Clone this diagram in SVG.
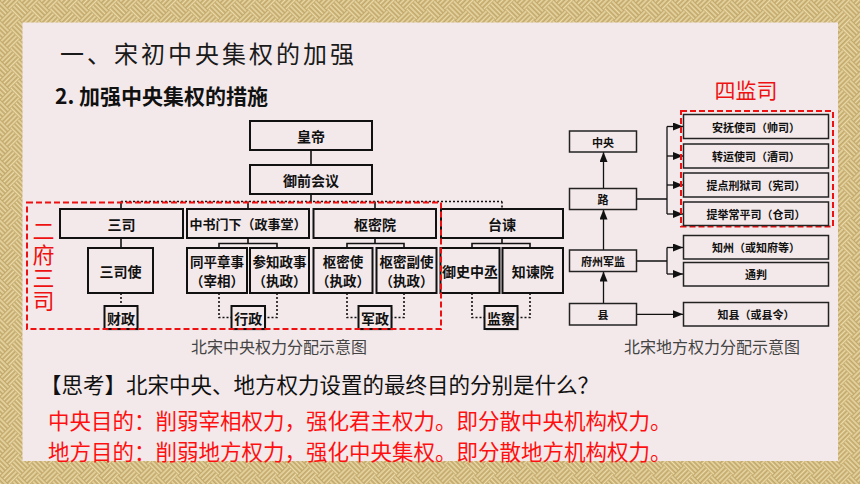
<svg xmlns="http://www.w3.org/2000/svg" width="860" height="484" viewBox="0 0 860 484">
<defs>
<pattern id="weave" width="28" height="28" patternUnits="userSpaceOnUse" patternTransform="rotate(45)">
<rect width="28" height="28" fill="#c3a86b"/>
<path d="M0 2H14M0 5.5H14M0 9H14M0 12.5H14M16 0V14M19.5 0V14M23 0V14M26.5 0V14M2 14V28M5.5 14V28M9 14V28M12.5 14V28M14 16H28M14 19.5H28M14 23H28M14 26.5H28" stroke="#ecdcab" stroke-width="1.5" fill="none"/>
</pattern>
<marker id="arr" markerUnits="userSpaceOnUse" markerWidth="10" markerHeight="8" refX="10" refY="4" orient="auto">
<path d="M0 0L10 4L0 8z" fill="#111"/>
</marker>
<style>
text{font-family:"Noto Sans CJK SC","Liberation Sans",sans-serif;dominant-baseline:central}
.b{fill:none;stroke:#111;stroke-width:2}
.lt{font-size:14px;font-weight:bold;fill:#111;text-anchor:middle}
.l2{font-size:13.5px}
.rb{fill:none;stroke:#222;stroke-width:1.5}
.rt{font-size:11px;font-weight:bold;fill:#111;text-anchor:middle}
.sol{fill:none;stroke:#111;stroke-width:1.6}
.dot{fill:none;stroke:#111;stroke-width:1.6;stroke-dasharray:2 2}
.arl{fill:none;stroke:#111;stroke-width:1.3;marker-end:url(#arr)}
.red{fill:none;stroke:#ee1111;stroke-width:2;stroke-dasharray:6 3}
.cap{font-size:16px;fill:#444;text-anchor:middle}
.sh{fill:#bbb;opacity:0.5}
</style>
</defs>

<rect width="860" height="484" fill="url(#weave)"/>
<rect x="22.5" y="22.5" width="815.5" height="438.5" fill="#f3e9ea"/>

<text x="60" y="52" font-size="24" letter-spacing="3" fill="#1a1a1a">一、宋初中央集权的加强</text>
<text x="55" y="94.5" font-size="21" font-weight="bold" fill="#111">2. 加强中央集权的措施</text>

<g id="connectors">
<path class="sol" d="M311 150V165M311 194V202"/>
<path class="dot" d="M121 201.5H502"/>
<path class="sol" d="M121 201.5V209M248 201.5V209M375 201.5V209"/>
<path class="dot" d="M502 201.5V209"/>
<path class="sol" d="M121 238V248M248 238V243.5M219 248V243.5H277V248M375 238V243.5M347 248V243.5H404V248M502 238V243.5M472 248V243.5H530V248"/>
<path class="dot" d="M121 293V306M219 293V317.5H231.5M277 293V317.5H265M347 293V317.5H358.5M404 293V317.5H391.5M472 293V317.5H484.5M530 293V317.5H517.5"/>
<path class="arl" d="M603.5 188.5V152"/>
<path class="arl" d="M603.5 250V209.5"/>
<path class="arl" d="M603.5 303.5V271.5"/>
<path class="sol" style="stroke-width:1.3" d="M636.5 199H667M667 126.5V214M636.5 261H667M667 247.5V274"/>
<path class="arl" d="M667 126.5H683"/>
<path class="arl" d="M667 156H683"/>
<path class="arl" d="M667 185H683"/>
<path class="arl" d="M667 214H683"/>
<path class="arl" d="M667 247.5H683"/>
<path class="arl" d="M667 274H683"/>
<path class="arl" d="M636.5 314.3H683"/>
</g>

<g id="n-huangdi"><rect class="b" x="250" y="121" width="122" height="29"/><text class="lt" x="311" y="135.5">皇帝</text></g>
<g id="n-yuqian"><rect class="b" x="250" y="165" width="122" height="29"/><text class="lt" x="311" y="179.5">御前会议</text></g>

<g id="n-sansi"><rect class="b" x="60" y="209" width="123" height="29"/><text class="lt" x="121.5" y="223.5">三司</text></g>
<g id="n-zhongshu"><rect class="b" x="187" y="209" width="122" height="29"/><text class="lt" x="248" y="223.5" style="font-size:13px">中书门下（政事堂）</text></g>
<g id="n-shumiyuan"><rect class="b" x="313.5" y="209" width="122.5" height="29"/><text class="lt" x="375" y="223.5">枢密院</text></g>
<g id="n-taijian"><rect class="b" x="441" y="209" width="122" height="29"/><text class="lt" x="502" y="223.5">台谏</text></g>

<g id="n-sansishi"><rect class="b" x="88" y="248" width="65" height="45"/><text class="lt" x="120.5" y="271">三司使</text></g>
<g id="n-tongping"><rect class="b" x="187" y="248" width="60" height="45"/><text class="lt l2" x="217" y="260.6">同平章事</text><text class="lt l2" x="217" y="280.4">（宰相）</text></g>
<g id="n-canzhi"><rect class="b" x="250" y="248" width="59" height="45"/><text class="lt l2" x="279.5" y="260.6">参知政事</text><text class="lt l2" x="279.5" y="280.4">（执政）</text></g>
<g id="n-shumishi"><rect class="b" x="313.5" y="248" width="59" height="45"/><text class="lt l2" x="343" y="260.6">枢密使</text><text class="lt l2" x="343" y="280.4">（执政）</text></g>
<g id="n-shumifushi"><rect class="b" x="376.5" y="248" width="60" height="45"/><text class="lt l2" x="406.5" y="260.6">枢密副使</text><text class="lt l2" x="406.5" y="280.4">（执政）</text></g>
<g id="n-yushi"><rect class="b" x="440.5" y="248" width="59" height="45"/><text class="lt" x="470" y="271">御史中丞</text></g>
<g id="n-zhijian"><rect class="b" x="502.5" y="248" width="60.5" height="45"/><text class="lt" x="532.7" y="271">知谏院</text></g>

<g id="n-caizheng"><rect class="sh" x="106" y="308" width="33" height="23"/><rect class="b" x="104.5" y="306" width="33" height="23" style="fill:#f3e9ea"/><text class="lt" x="121" y="317.5">财政</text></g>
<g id="n-xingzheng"><rect class="sh" x="233" y="308" width="33.5" height="23"/><rect class="b" x="231.5" y="306" width="33.5" height="23" style="fill:#f3e9ea"/><text class="lt" x="248.2" y="317.5">行政</text></g>
<g id="n-junzheng"><rect class="sh" x="360" y="308" width="33" height="23"/><rect class="b" x="358.5" y="306" width="33" height="23" style="fill:#f3e9ea"/><text class="lt" x="375" y="317.5">军政</text></g>
<g id="n-jiancha"><rect class="sh" x="486" y="308" width="33" height="23"/><rect class="b" x="484.5" y="306" width="33" height="23" style="fill:#f3e9ea"/><text class="lt" x="501" y="317.5">监察</text></g>

<g id="erfu-sansi">
<rect class="red" x="27" y="202.5" width="414" height="126.5"/>
<text x="43.5" y="220" font-size="22" fill="#ee1111" writing-mode="tb" letter-spacing="1.2" style="dominant-baseline:auto">二府三司</text>
</g>

<text class="cap" x="279" y="346">北宋中央权力分配示意图</text>

<g id="n-zhongyang"><rect class="rb" x="569.5" y="131" width="67" height="21"/><text class="rt" x="603" y="141.5">中央</text></g>
<g id="n-lu"><rect class="rb" x="569.5" y="188.5" width="67" height="21"/><text class="rt" x="603" y="199">路</text></g>
<g id="n-fuzhou"><rect class="rb" x="569.5" y="250" width="67" height="21.5"/><text class="rt" x="603" y="260.8">府州军监</text></g>
<g id="n-xian"><rect class="rb" x="569.5" y="303.5" width="67" height="21.5"/><text class="rt" x="603" y="314.2">县</text></g>

<g id="sijiansi">
<text x="746" y="89" font-size="21" fill="#ee1111" text-anchor="middle">四监司</text>
<rect class="red" x="681" y="111" width="152" height="115.5"/>
</g>
<g id="n-anfu"><rect class="rb" x="683.5" y="114.5" width="145" height="24"/><text class="rt" x="756" y="126.5">安抚使司（帅司）</text></g>
<g id="n-zhuanyun"><rect class="rb" x="683.5" y="144" width="145" height="24"/><text class="rt" x="756" y="156">转运使司（漕司）</text></g>
<g id="n-tidian"><rect class="rb" x="683.5" y="173" width="145" height="24"/><text class="rt" x="756" y="185">提点刑狱司（宪司）</text></g>
<g id="n-tiju"><rect class="rb" x="683.5" y="202" width="145" height="23.5"/><text class="rt" x="756" y="213.8">提举常平司（仓司）</text></g>
<g id="n-zhizhou"><rect class="rb" x="683.5" y="235.5" width="145" height="23.5"/><text class="rt" x="756" y="247.3">知州（或知府等）</text></g>
<g id="n-tongpan"><rect class="rb" x="683.5" y="262.5" width="145" height="23.5"/><text class="rt" x="756" y="274.2">通判</text></g>
<g id="n-zhixian"><rect class="rb" x="683.5" y="302.5" width="145" height="23.5"/><text class="rt" x="756" y="314.2">知县（或县令）</text></g>

<text class="cap" x="712" y="345.7">北宋地方权力分配示意图</text>

<text x="40" y="383.5" font-size="21.5" fill="#111">【思考】北宋中央、地方权力设置的最终目的分别是什么？</text>
<text x="48" y="419.5" font-size="21.5" fill="#ff1010">中央目的：削弱宰相权力，强化君主权力。即分散中央机构权力。</text>
<text x="48" y="450" font-size="21.5" fill="#ff1010">地方目的：削弱地方权力，强化中央集权。即分散地方机构权力。</text>
</svg>
